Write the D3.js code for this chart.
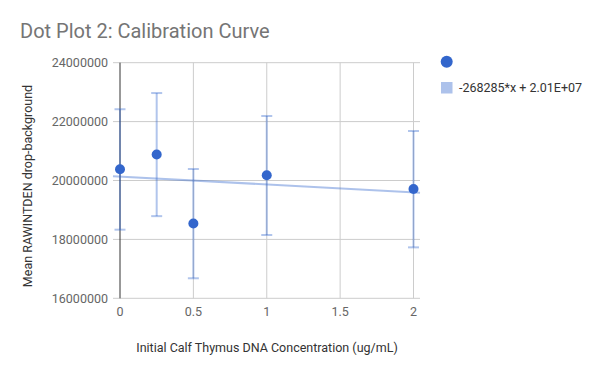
<!DOCTYPE html>
<html>
<head>
<meta charset="utf-8">
<script src="https://cdn.jsdelivr.net/npm/d3@7"></script>
<style>
  body { margin: 0; background: #fff; }
  svg { display: block; font-family: Roboto, Arial, sans-serif; }
</style>
</head>
<body>
<svg id="chart" width="600" height="371"></svg>
<script>
// dati
const concentrazioni = [0, 0.25, 0.5, 1, 2];
const medie          = [20380000, 20880000, 18540000, 20180000, 19710000];
const erroriAlti     = [22420000, 22970000, 20390000, 22190000, 21680000];
const erroriBassi    = [18330000, 18790000, 16680000, 18150000, 17730000];
const xTicks         = [0, 0.5, 1, 1.5, 2];
const yTicks         = [16000000, 18000000, 20000000, 22000000, 24000000];
const trendPendenza  = -268285;
const trendIntercetta = 20134000;
const trendEtichetta = "-268285*x + 2.01E+07";

const BLU = "#3366cc";

const svg = d3.select("#chart");

const x = d3.scaleLinear().domain([0, 2]).range([120, 413.5]);
const y = d3.scaleLinear().domain([16000000, 24000000]).range([298.3, 62.7]);

const xMin = x.invert(113), xMax = x.invert(420);

/* ── GRIGLIA ─────────────────────────────── */
const g = svg.append("g");

g.selectAll("line.hgrid").data(yTicks).join("line")
  .attr("class", "hgrid")
  .attr("x1", 113).attr("x2", 420)
  .attr("y1", d => y(d)).attr("y2", d => y(d))
  .attr("stroke", "#cccccc").attr("stroke-width", 1);

g.selectAll("line.vgrid").data(xTicks.filter(d => d !== 0)).join("line")
  .attr("class", "vgrid")
  .attr("x1", d => x(d)).attr("x2", d => x(d))
  .attr("y1", y(24000000)).attr("y2", y(16000000))
  .attr("stroke", "#cccccc").attr("stroke-width", 1);

// asse verticale a x = 0
g.append("line")
  .attr("x1", x(0)).attr("x2", x(0))
  .attr("y1", y(24000000)).attr("y2", y(16000000))
  .attr("stroke", "#333").attr("stroke-width", 1);

/* ── ETICHETTE ASSI ──────────────────────── */
g.selectAll("text.ytick").data(yTicks).join("text")
  .attr("class", "ytick")
  .attr("x", 108).attr("y", d => y(d) + 4.5)
  .attr("text-anchor", "end")
  .attr("font-size", 12.5).attr("fill", "#666")
  .text(d => d3.format("d")(d));

g.selectAll("text.xtick").data(xTicks).join("text")
  .attr("class", "xtick")
  .attr("x", d => x(d)).attr("y", 316)
  .attr("text-anchor", "middle")
  .attr("font-size", 12.5).attr("fill", "#666")
  .text(d => d);

svg.append("text")
  .attr("x", 267).attr("y", 352)
  .attr("text-anchor", "middle")
  .attr("font-size", 12.5).attr("fill", "#333")
  .text("Initial Calf Thymus DNA Concentration (ug/mL)");

svg.append("text")
  .attr("transform", "translate(32,186) rotate(-90)")
  .attr("text-anchor", "middle")
  .attr("font-size", 12.5).attr("fill", "#333")
  .text("Mean RAWINTDEN drop-background");

svg.append("text")
  .attr("x", 20).attr("y", 38)
  .attr("font-size", 20).attr("fill", "#757575")
  .text("Dot Plot 2: Calibration Curve");

/* ── TRENDLINE ───────────────────────────── */
const trend = [xMin, xMax].map(v => [v, trendPendenza * v + trendIntercetta]);
svg.append("path")
  .datum(trend)
  .attr("d", d3.line().x(d => x(d[0])).y(d => y(d[1])))
  .attr("fill", "none")
  .attr("stroke", BLU).attr("stroke-opacity", 0.4)
  .attr("stroke-width", 2);

/* ── BARRE D'ERRORE ──────────────────────── */
const dati = concentrazioni.map((c, i) => ({
  c, m: medie[i], hi: erroriAlti[i], lo: erroriBassi[i]
}));

const eb = svg.append("g")
  .attr("stroke", BLU).attr("stroke-opacity", 0.38).attr("stroke-width", 2);

eb.selectAll("line.stem").data(dati).join("line")
  .attr("x1", d => x(d.c)).attr("x2", d => x(d.c))
  .attr("y1", d => y(d.hi)).attr("y2", d => y(d.lo));

eb.selectAll("line.capHi").data(dati).join("line")
  .attr("x1", d => x(d.c) - 5.5).attr("x2", d => x(d.c) + 5.5)
  .attr("y1", d => y(d.hi)).attr("y2", d => y(d.hi));

eb.selectAll("line.capLo").data(dati).join("line")
  .attr("x1", d => x(d.c) - 5.5).attr("x2", d => x(d.c) + 5.5)
  .attr("y1", d => y(d.lo)).attr("y2", d => y(d.lo));

/* ── PUNTI ───────────────────────────────── */
svg.selectAll("circle.pt").data(dati).join("circle")
  .attr("class", "pt")
  .attr("cx", d => x(d.c)).attr("cy", d => y(d.m))
  .attr("r", 5).attr("fill", BLU);

/* ── LEGENDA ─────────────────────────────── */
svg.append("circle")
  .attr("cx", 446.7).attr("cy", 61.7).attr("r", 6)
  .attr("fill", BLU);

svg.append("rect")
  .attr("x", 441).attr("y", 82).attr("width", 11.5).attr("height", 11.5)
  .attr("fill", BLU).attr("fill-opacity", 0.4);

svg.append("text")
  .attr("x", 459).attr("y", 92)
  .attr("font-size", 12.5).attr("fill", "#333")
  .text(trendEtichetta);
</script>
</body>
</html>
